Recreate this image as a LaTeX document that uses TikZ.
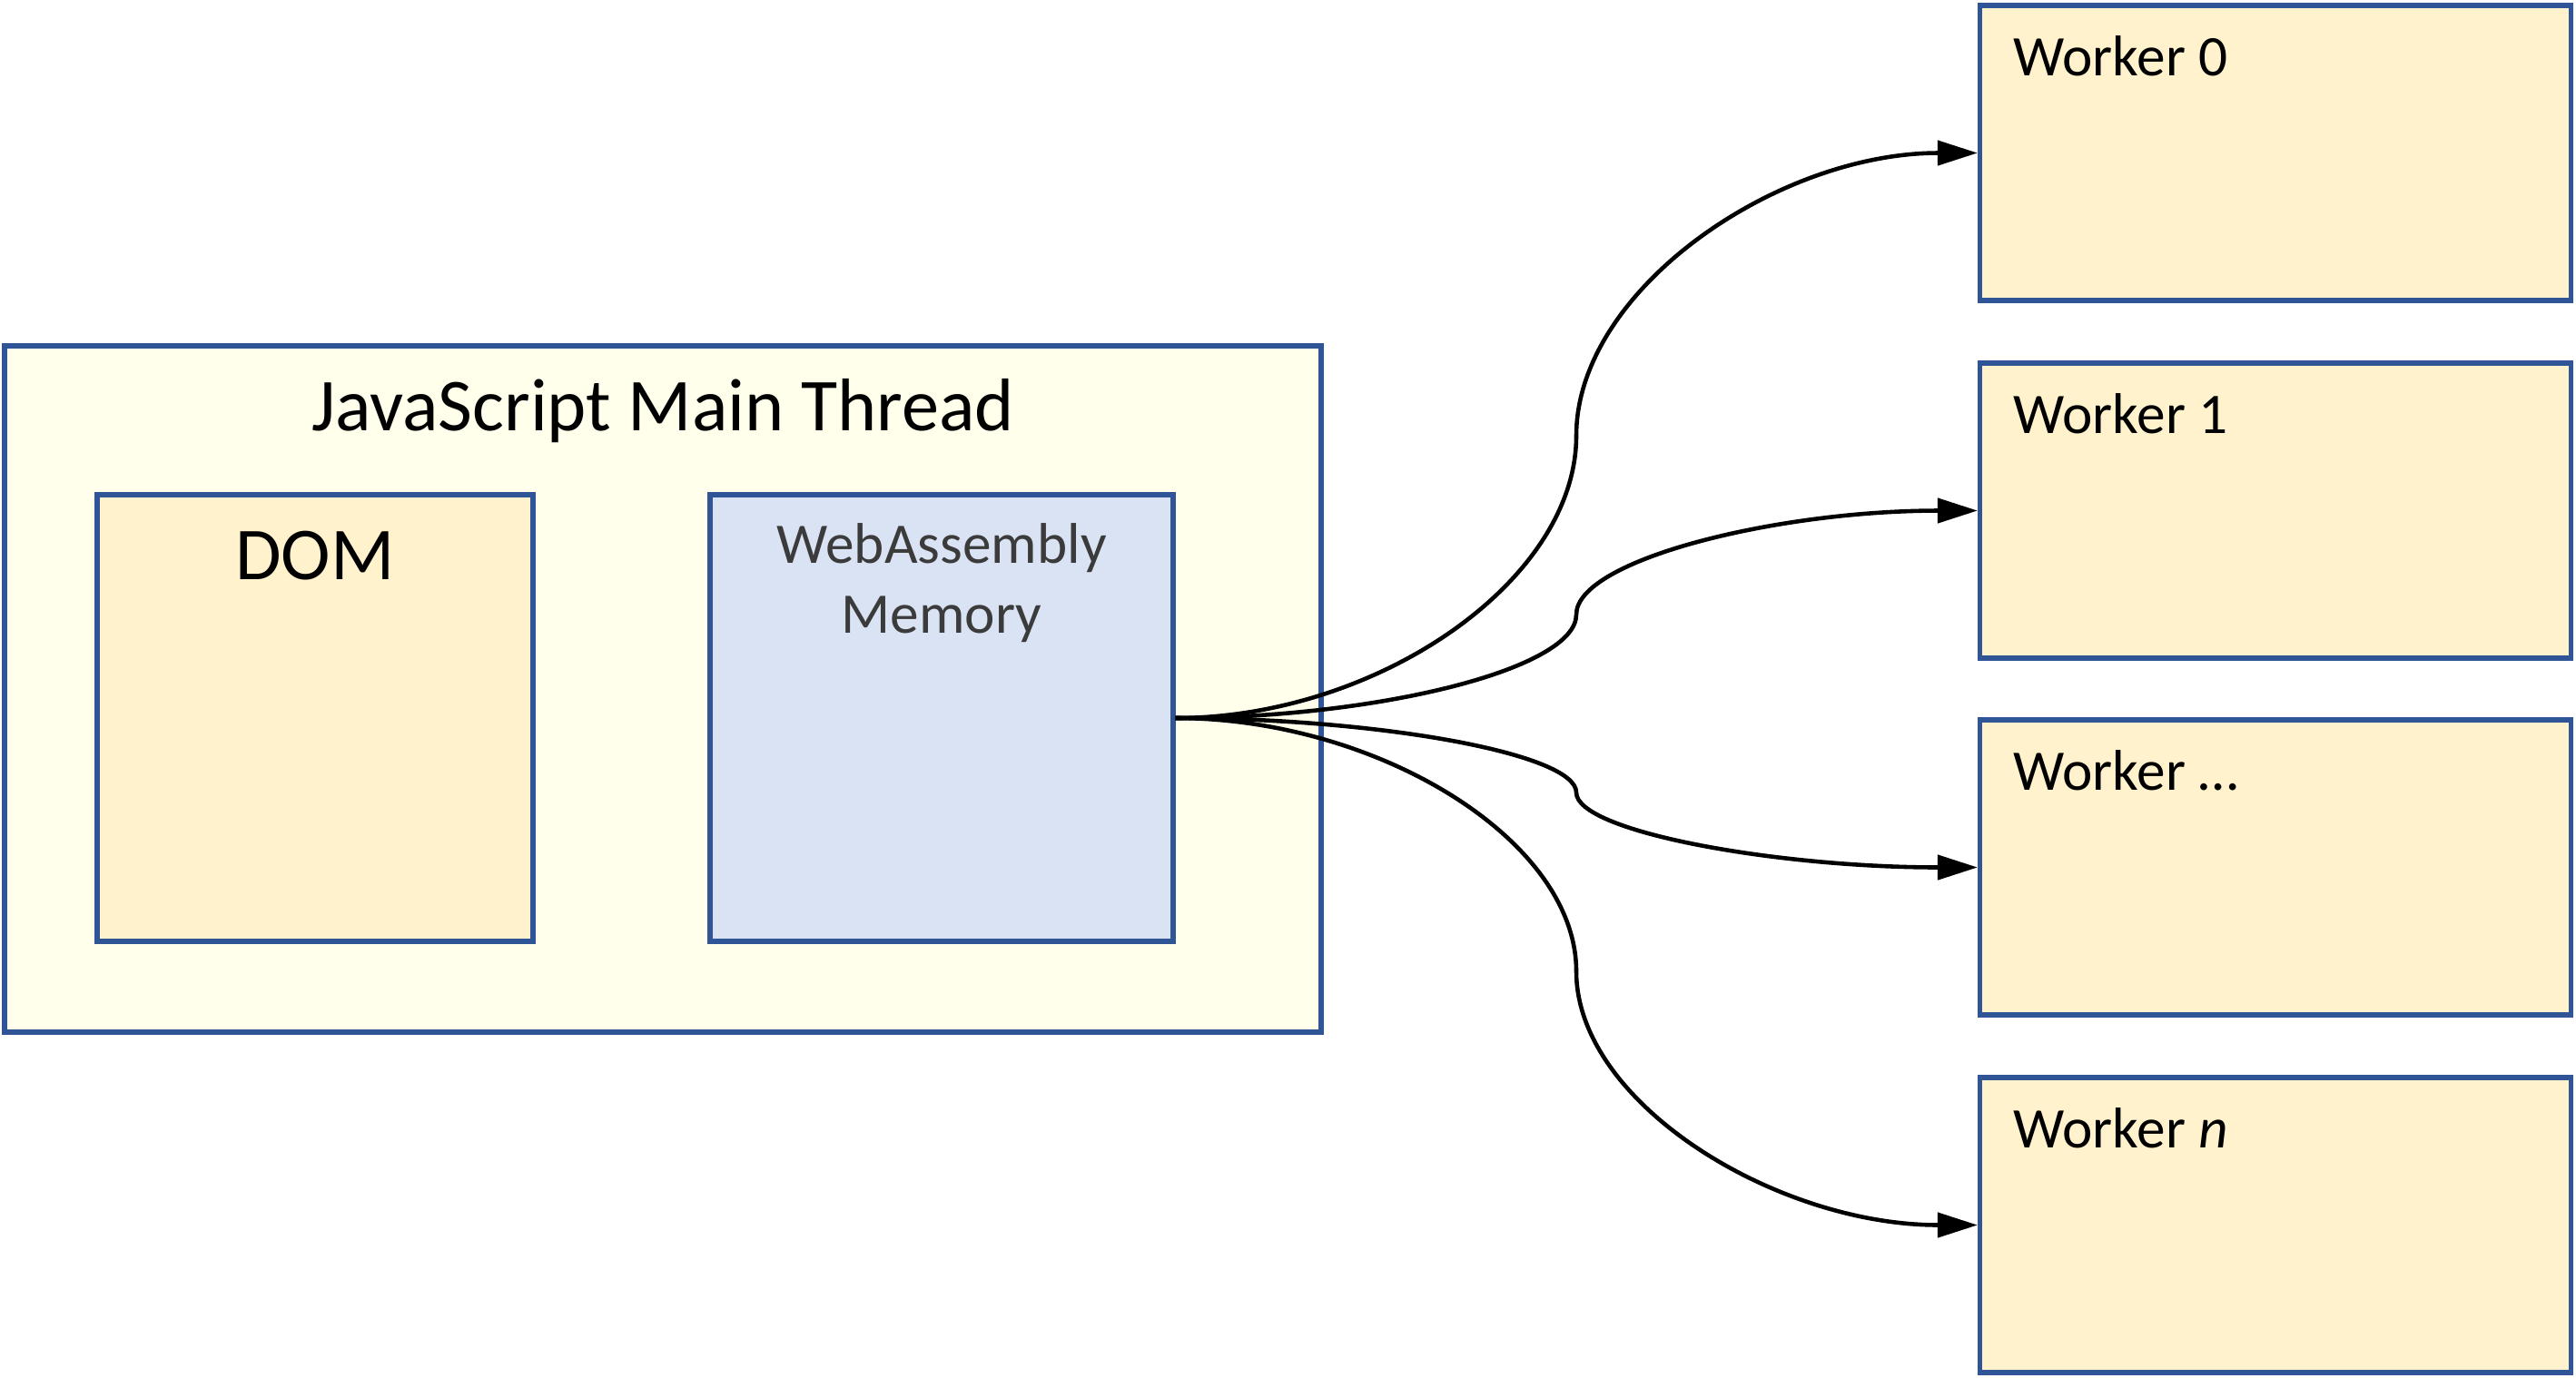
\documentclass[tikz,border=0pt]{standalone}
\usepackage{fontspec}
\setmainfont{Carlito}
\usepackage{tikz}
\usetikzlibrary{arrows.meta}

\definecolor{boxline}{HTML}{2F5597}
\definecolor{mainfill}{HTML}{FFFFEB}
\definecolor{workfill}{HTML}{FFF2CC}
\definecolor{memfill}{HTML}{DAE3F3}
\definecolor{memtext}{HTML}{3B3B3B}

\begin{document}
\begin{tikzpicture}[
    box/.style={draw=boxline, line width=1.5pt, inner sep=0pt},
    worker/.style={box, fill=workfill, minimum width=6.51cm, minimum height=3.25cm},
    bigtext/.style={anchor=base, inner sep=0pt, font=\fontsize{23.4}{28}\selectfont},
    wlabel/.style={anchor=base west, inner sep=0pt, font=\fontsize{18}{21.8}\selectfont},
    flow/.style={-{Triangle[length=4.4mm,width=2.7mm]}, line width=1.3pt}
]
    \useasboundingbox (0,0) rectangle (28.37,-15.17);

    \node[box, fill=mainfill, minimum width=14.50cm, minimum height=7.56cm] (main) at (7.30,-7.59) {};
    \node[bigtext] (title) at (7.30,-4.74) {JavaScript Main Thread};

    \node[box, fill=workfill, minimum width=4.80cm, minimum height=4.92cm] (dom) at (3.47,-7.91) {};
    \node[bigtext] (domlabel) at (3.47,-6.38) {DOM};

    \node[box, fill=memfill, minimum width=5.10cm, minimum height=4.92cm] (mem) at (10.37,-7.91) {};
    \node[anchor=base, inner sep=0pt, font=\fontsize{18}{21.8}\selectfont, align=center, text=memtext] (memlabel) at (10.37,-6.97) {WebAssembly\\Memory};

    \node[worker] (w0) at (25.06,-1.685) {};
    \node[wlabel] (w0label) at (22.17,-0.83) {Worker 0};
    \node[worker] (w1) at (25.06,-5.625) {};
    \node[wlabel] (w1label) at (22.17,-4.77) {Worker 1};
    \node[worker] (w2) at (25.06,-9.555) {};
    \node[wlabel] (w2label) at (22.17,-8.70) {Worker …};
    \node[worker] (wn) at (25.06,-13.495) {};
    \node[wlabel] (wnlabel) at (22.17,-12.64) {Worker \textit{n}};

    \coordinate (m0) at (17.36,-4.80);
    \coordinate (m1) at (17.36,-6.77);
    \coordinate (m2) at (17.36,-8.73);
    \coordinate (m3) at (17.36,-10.70);

    \draw[flow] (mem.east) .. controls +(2.22,0) and +(0,-1.6) .. (m0)
        .. controls +(0,1.6) and +(-2.22,0) .. (w0.west);
    \draw[flow] (mem.east) .. controls +(2.22,0) and +(0,-0.6) .. (m1)
        .. controls +(0,0.6) and +(-2.22,0) .. (w1.west);
    \draw[flow] (mem.east) .. controls +(2.22,0) and +(0,0.43) .. (m2)
        .. controls +(0,-0.43) and +(-2.22,0) .. (w2.west);
    \draw[flow] (mem.east) .. controls +(2.22,0) and +(0,1.45) .. (m3)
        .. controls +(0,-1.45) and +(-2.22,0) .. (wn.west);

\end{tikzpicture}
\end{document}
